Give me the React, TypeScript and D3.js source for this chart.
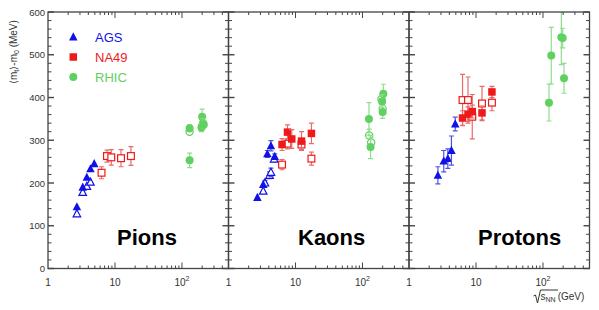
import React from "react";
import * as d3 from "d3";

// [sqrt(s_NN) GeV, <mt>-m0 MeV, error MeV]
const pionAgsFilled = [[2.7, 144, 4], [3.3, 190, 4], [3.8, 213, 4], [4.3, 233, 4], [4.9, 245, 4]];
const pionAgsOpen = [[2.7, 128, 4], [3.3, 178, 4], [3.8, 192, 4], [4.3, 202, 4]];
const pionNa49Filled: number[][] = [];
const pionNa49Open = [[6.3, 224, 14], [7.6, 263, 14], [8.8, 260, 18], [12.3, 258, 20], [17.3, 263, 22]];
const pionRhicFilled = [[130, 253, 17], [130, 328, 8], [200, 355, 18], [205, 340, 10], [195, 330, 10], [212, 337, 8]];
const pionRhicOpen = [[130, 320, 6], [200, 333, 8]];

const kaonAgsFilled = [[2.7, 166, 3], [3.3, 196, 5], [3.8, 268, 8], [4.3, 287, 12], [4.9, 262, 6]];
const kaonAgsOpen = [[3.3, 181, 5], [3.5, 200, 6], [4.1, 218, 8], [4.3, 225, 10], [4.8, 256, 6]];
const kaonNa49Filled = [[6.3, 290, 14], [7.6, 319, 17], [8.8, 303, 22], [12.3, 298, 22], [17.3, 316, 24]];
const kaonNa49Open = [[6.3, 243, 12], [7.6, 292, 12], [12.3, 290, 12], [17.3, 257, 15]];
const kaonRhicFilled = [[125, 350, 38], [132, 284, 27], [205, 409, 22], [196, 391, 15], [200, 366, 15]];
const kaonRhicOpen = [[126, 311, 15], [135, 295, 12], [192, 396, 12], [200, 374, 10]];

const protonAgsFilled = [[2.7, 218, 20], [3.3, 251, 25], [3.8, 257, 23], [4.3, 276, 34], [4.9, 338, 16]];
const protonAgsOpen: number[][] = [];
const protonNa49Filled = [[6.3, 352, 17], [7.6, 361, 17], [8.8, 367, 15], [12.3, 364, 16], [17.3, 413, 13]];
const protonNa49Open = [[6.3, 394, 60], [7.6, 394, 54], [8.8, 355, 52], [12.3, 386, 40], [17.3, 388, 19]];
const protonRhicFilled = [[123, 388, 43], [133, 498, 66], [188, 541, 64], [197, 539, 23], [206, 445, 35]];
const protonRhicOpen: number[][] = [];

const panelNames = ["Pions", "Kaons", "Protons"];
const experiments = ["AGS", "NA49", "RHIC"];
const yTicks = [0, 100, 200, 300, 400, 500, 600];

const colors: Record<string, string> = { AGS: "#1010e8", NA49: "#ee1a1a", RHIC: "#60d060" };
const barColors: Record<string, string> = { AGS: "#5050e0", NA49: "#e86a6a", RHIC: "#8ede8e" };
const shapes: Record<string, string> = { AGS: "triangle", NA49: "square", RHIC: "circle" };

const panels = [
  {
    name: panelNames[0],
    series: [
      { exp: "AGS", filled: pionAgsFilled, open: pionAgsOpen },
      { exp: "NA49", filled: pionNa49Filled, open: pionNa49Open },
      { exp: "RHIC", filled: pionRhicFilled, open: pionRhicOpen },
    ],
  },
  {
    name: panelNames[1],
    series: [
      { exp: "AGS", filled: kaonAgsFilled, open: kaonAgsOpen },
      { exp: "NA49", filled: kaonNa49Filled, open: kaonNa49Open },
      { exp: "RHIC", filled: kaonRhicFilled, open: kaonRhicOpen },
    ],
  },
  {
    name: panelNames[2],
    series: [
      { exp: "AGS", filled: protonAgsFilled, open: protonAgsOpen },
      { exp: "NA49", filled: protonNa49Filled, open: protonNa49Open },
      { exp: "RHIC", filled: protonRhicFilled, open: protonRhicOpen },
    ],
  },
];

const W = 599, H = 310;
const top = 12, bottom = 268.5;
const panelLefts = [48, 228.5, 409];
const panelW = 180.5;
const labelX = [117, 298, 478];
const FONT = "Liberation Sans, Arial, Helvetica, sans-serif";
const AXIS = "#444";

const y = d3.scaleLinear().domain([0, 600]).range([bottom, top]);

function Marker({ shape, cx, cy, color, open }: any) {
  const fill = open ? "white" : color;
  const sw = open ? 1.2 : 0;
  if (shape === "triangle") {
    const s = open ? 7.5 : 8.5;
    const pts = [[cx, cy - s * 0.55], [cx + s / 2, cy + s * 0.4], [cx - s / 2, cy + s * 0.4]];
    return <polygon points={pts.map((p) => p.join(",")).join(" ")} fill={fill} stroke={color} strokeWidth={sw} />;
  }
  if (shape === "square") {
    const s = open ? 6.8 : 7.5;
    return <rect x={cx - s / 2} y={cy - s / 2} width={s} height={s} fill={fill} stroke={color} strokeWidth={sw} />;
  }
  return <circle cx={cx} cy={cy} r={open ? 3.6 : 4} fill={fill} stroke={color} strokeWidth={sw} />;
}

function Panel({ panel, idx }: any) {
  const left = panelLefts[idx];
  const right = left + panelW;
  const x = d3.scaleLog().domain([1, 495]).range([left, right]);
  const xMinor: number[] = [];
  [1, 10, 100].forEach((dec) => {
    for (let k = 2; k <= 9; k++) if (k * dec < 495) xMinor.push(k * dec);
  });
  const yMinor = d3.range(0, 601, 20).filter((v) => v % 100 !== 0);
  const clipId = `clip-${idx}`;

  const drawSet = (exp: string, pts: number[][], open: boolean) =>
    pts.map((d, i) => {
      const cx = x(d[0]);
      const cy = y(d[1]);
      const y1 = y(d[1] + d[2]);
      const y2 = y(d[1] - d[2]);
      return (
        <g key={`${exp}-${open}-${i}`}>
          {d[2] > 5 && (
            <g stroke={barColors[exp]} strokeWidth={1.2}>
              <line x1={cx} x2={cx} y1={y1} y2={y2} />
              <line x1={cx - 2.5} x2={cx + 2.5} y1={y1} y2={y1} />
              <line x1={cx - 2.5} x2={cx + 2.5} y1={y2} y2={y2} />
            </g>
          )}
          <Marker shape={shapes[exp]} cx={cx} cy={cy} color={colors[exp]} open={open} />
        </g>
      );
    });

  return (
    <g>
      <defs>
        <clipPath id={clipId}>
          <rect x={left} y={top} width={panelW} height={bottom - top} />
        </clipPath>
      </defs>
      <g clipPath={`url(#${clipId})`}>
        {panel.series.map((s: any) => (
          <g key={s.exp}>
            {drawSet(s.exp, s.open, true)}
            {drawSet(s.exp, s.filled, false)}
          </g>
        ))}
      </g>
      {/* frame */}
      <rect x={left} y={top} width={panelW} height={bottom - top} fill="none" stroke={AXIS} strokeWidth={1.3} />
      {/* x ticks */}
      <g stroke={AXIS} strokeWidth={1}>
        {xMinor.map((v) => (
          <g key={v}>
            <line x1={x(v)} x2={x(v)} y1={bottom} y2={bottom - 3} />
            <line x1={x(v)} x2={x(v)} y1={top} y2={top + 3} />
          </g>
        ))}
        {[10, 100].map((v) => (
          <g key={v}>
            <line x1={x(v)} x2={x(v)} y1={bottom} y2={bottom - 6} />
            <line x1={x(v)} x2={x(v)} y1={top} y2={top + 6} />
          </g>
        ))}
        {yMinor.map((v) => (
          <g key={v}>
            <line x1={left} x2={left + 3.5} y1={y(v)} y2={y(v)} />
            <line x1={right} x2={right - 3.5} y1={y(v)} y2={y(v)} />
          </g>
        ))}
        {yTicks.map((v) => (
          <g key={v}>
            <line x1={left} x2={left + 6} y1={y(v)} y2={y(v)} strokeWidth={1.4} />
            <line x1={right} x2={right - 6} y1={y(v)} y2={y(v)} strokeWidth={1.4} />
          </g>
        ))}
      </g>
      {/* x labels */}
      <g fontFamily={FONT} fontSize={10} fill="#333" textAnchor="middle">
        <text x={x(1)} y={286}>1</text>
        <text x={x(10)} y={286}>10</text>
        <text x={x(100)} y={286}>
          10<tspan fontSize={7} dy={-5}>2</tspan>
        </text>
      </g>
      <text x={labelX[idx]} y={245} fontFamily={FONT} fontWeight="bold" fontSize={22} fill="#000">
        {panel.name}
      </text>
    </g>
  );
}

export default function App() {
  return (
    <svg width={W} height={H} style={{ position: "absolute", left: 0, top: 0, background: "white" }}>
      {panels.map((p, i) => (
        <Panel key={p.name} panel={p} idx={i} />
      ))}
      {/* y tick labels */}
      <g fontFamily={FONT} fontSize={9.5} fill="#333" textAnchor="end">
        {yTicks.map((v) => (
          <text key={v} x={45} y={y(v) + 3.5}>{v}</text>
        ))}
      </g>
      {/* y title */}
      <text transform="translate(17,84) rotate(-90)" fontFamily={FONT} fontSize={10} fill="#333">
        ⟨m<tspan fontSize={7} dy={2}>t</tspan>
        <tspan dy={-2}>⟩-m</tspan>
        <tspan fontSize={7} dy={2}>0</tspan>
        <tspan dy={-2}> (MeV)</tspan>
      </text>
      {/* legend */}
      {experiments.map((e, i) => (
        <g key={e}>
          <Marker shape={shapes[e]} cx={73.3} cy={37 + i * 20} color={colors[e]} open={false} />
          <text x={95} y={41.5 + i * 20} fontFamily={FONT} fontSize={13} fill={colors[e]}>{e}</text>
        </g>
      ))}
      {/* sqrt(s_NN) label */}
      <path d="M533.5,296 L535.5,295 L537.5,303 L540.5,290 L558,290" fill="none" stroke="#333" strokeWidth={1} />
      <text x={540.5} y={300} fontFamily={FONT} fontSize={10} fill="#333">
        s<tspan fontSize={7} dy={2}>NN</tspan>
        <tspan dy={-2} dx={2}>(GeV)</tspan>
      </text>
    </svg>
  );
}
